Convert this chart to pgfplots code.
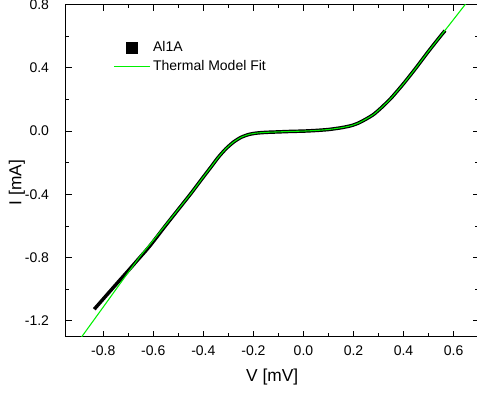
\documentclass[border=0pt]{standalone}
\usepackage{pgfplots}
\pgfplotsset{compat=1.18}
\usepackage{fontspec}
\setmainfont{Liberation Sans}

\definecolor{fitgreen}{RGB}{0,240,0}

% Measured I-V characteristic of junction Al1A
\pgfplotstableread{
V       I
-0.836  -1.126
-0.80   -1.061
-0.75   -0.971
-0.70   -0.882
-0.65   -0.792
-0.625  -0.747
-0.60   -0.698
-0.55   -0.595
-0.50   -0.495
-0.45   -0.395
-0.40   -0.290
-0.37   -0.228
-0.34   -0.165
-0.31   -0.112
-0.28   -0.070
-0.25   -0.040
-0.22   -0.022
-0.19   -0.013
-0.15   -0.008
-0.10   -0.005
-0.05   -0.002
 0.00    0.000
 0.05    0.004
 0.10    0.010
 0.15    0.021
 0.19    0.034
 0.22    0.051
 0.25    0.076
 0.28    0.105
 0.31    0.146
 0.35    0.208
 0.40    0.300
 0.45    0.400
 0.50    0.505
 0.55    0.605
 0.566   0.635
}\measured

% Thermal model fit
\pgfplotstableread{
V       I
-0.90   -1.331
-0.886  -1.300
-0.80   -1.112
-0.75   -1.002
-0.70   -0.893
-0.65   -0.786
-0.60   -0.690
-0.55   -0.592
-0.50   -0.494
-0.45   -0.395
-0.40   -0.290
-0.37   -0.228
-0.34   -0.165
-0.31   -0.112
-0.28   -0.070
-0.25   -0.040
-0.22   -0.022
-0.19   -0.013
-0.15   -0.008
-0.10   -0.005
-0.05   -0.002
 0.00    0.000
 0.05    0.004
 0.10    0.010
 0.15    0.021
 0.19    0.034
 0.22    0.051
 0.25    0.076
 0.28    0.105
 0.31    0.146
 0.35    0.208
 0.40    0.300
 0.45    0.400
 0.50    0.505
 0.55    0.605
 0.60    0.706
 0.66    0.828
}\fit

\begin{document}
\begin{tikzpicture}
\begin{axis}[
  scale only axis,
  width=309.7pt, height=249.2pt,
  xmin=-0.95, xmax=0.7,
  ymin=-1.3, ymax=0.8,
  xtick={-0.8,-0.6,...,0.61},
  ytick={-1.2,-0.8,...,0.81},
  minor x tick num=1,
  minor y tick num=1,
  tick align=inside,
  major tick length=4.5pt,
  minor tick length=2.5pt,
  axis line style={line width=0.75pt},
  every tick/.style={black, line width=0.75pt},
  /pgf/number format/assume math mode=true,
  /pgf/number format/fixed,
  /pgf/number format/fixed zerofill,
  /pgf/number format/precision=1,
  tick label style={font=\fontsize{10.5}{12}\selectfont},
  xticklabel style={yshift=-3pt},
  yticklabel style={xshift=-9pt},
  label style={font=\fontsize{13}{15}\selectfont},
  xlabel={V [mV]},
  ylabel={I [mA]},
  xlabel style={at={(rel axis cs:0.5,-0.121)}, anchor=center},
  ylabel style={at={(rel axis cs:-0.118,0.464)}, anchor=center},
  legend style={draw=none, fill=none, at={(rel axis cs:0.105,0.905)}, anchor=north west,
    font=\fontsize{10.5}{12}\selectfont, row sep=1pt},
  legend cell align=left,
]
\coordinate (SW) at (rel axis cs:0,0);
\addplot[black, line width=2.6pt, smooth, tension=0.4,
  legend image code/.code={\fill[black] (10.5pt,-3pt) rectangle (16.5pt,3pt);}]
  table[x=V, y=I] {\measured};
\addlegendentry{Al1A}
\addplot[fitgreen, line width=0.8pt, smooth, tension=0.4,
  legend image code/.code={\draw[fitgreen, line width=0.8pt] (0pt,0pt) -- (27pt,0pt);}]
  table[x=V, y=I] {\fit};
\addlegendentry{Thermal Model Fit}
\end{axis}
\pgfresetboundingbox
\path[use as bounding box] ([shift={(-49.3pt,-43pt)}]SW) rectangle ([shift={(308.5pt,252.6pt)}]SW);
\end{tikzpicture}
\end{document}
